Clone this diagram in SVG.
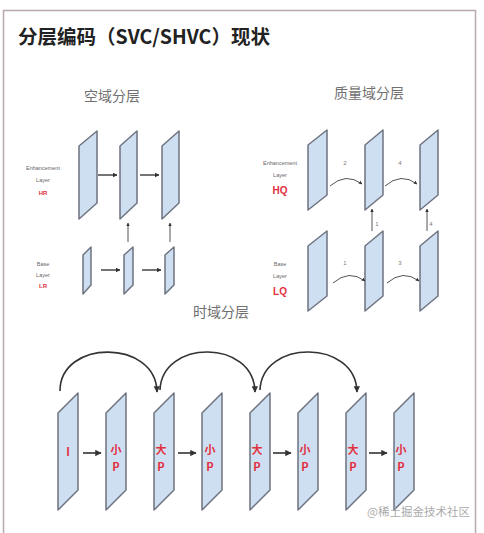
<svg xmlns="http://www.w3.org/2000/svg" width="484" height="533" viewBox="0 0 484 533">
<defs>
<style>
.frame{fill:#cfdff2;stroke:#6e7380;stroke-width:1.5;stroke-linejoin:round}
.ln{fill:none;stroke:#3a3a3a;stroke-width:1.4}
.thin{fill:none;stroke:#555;stroke-width:1}
.big{fill:none;stroke:#333;stroke-width:1.6}
.lbl{font-family:"Liberation Sans","Noto Sans",sans-serif;font-size:5.5px;fill:#666;text-anchor:middle}
.red{font-family:"Liberation Sans","Noto Sans",sans-serif;font-weight:bold;fill:#e23040;text-anchor:middle}
.sec{font-family:"Noto Sans CJK SC","Liberation Sans",sans-serif;font-size:14px;fill:#707070;text-anchor:middle}
.num{font-family:"Liberation Sans",sans-serif;font-size:6px;fill:#777;text-anchor:middle}
.fr{font-family:"Noto Sans CJK SC","Liberation Sans",sans-serif;font-weight:bold;font-size:11px;fill:#e23040;text-anchor:middle}
</style>
<marker id="ah" viewBox="0 0 10 10" refX="9" refY="5" markerWidth="4" markerHeight="4" orient="auto"><path d="M0,0 L10,5 L0,10 z" fill="#333"/></marker>
<marker id="ahb" viewBox="0 0 10 10" refX="9" refY="5" markerWidth="3.5" markerHeight="3.5" orient="auto"><path d="M0,0 L10,5 L0,10 z" fill="#333"/></marker>
</defs>
<rect width="484" height="533" fill="#ffffff"/>
<path d="M3.5,540 L3.5,10.5 L475.5,10.5 L475.5,540" fill="none" stroke="#b9a8ae" stroke-width="1.5"/>
<text x="18" y="44" font-family="Noto Sans CJK SC,Liberation Sans,sans-serif" font-size="19.5" font-weight="bold" fill="#222">分层编码（SVC/SHVC）现状</text>
<text class="sec" x="112" y="101">空域分层</text>
<text class="sec" x="369" y="98">质量域分层</text>
<text class="sec" x="221" y="317">时域分层</text>

<g id="spatial">
<text class="lbl" x="43" y="170">Enhancement</text>
<text class="lbl" x="43" y="182">Layer</text>
<text class="red" x="43" y="195" font-size="6">HR</text>
<text class="lbl" x="43" y="266">Base</text>
<text class="lbl" x="43" y="277">Layer</text>
<text class="red" x="43" y="288" font-size="6">LR</text>
<g id="s_e1"><path class="frame" d="M79,146 L97,131 L97,203 L79,219 z"/></g>
<g id="s_e2"><path class="frame" d="M120,146 L137,131 L137,203 L120,219 z"/></g>
<g id="s_e3"><path class="frame" d="M162,146 L179,131 L179,203 L162,219 z"/></g>
<g id="s_b1"><path class="frame" d="M83,255 L91,247 L91,285 L83,294 z"/></g>
<g id="s_b2"><path class="frame" d="M124,255 L133,247 L133,285 L124,294 z"/></g>
<g id="s_b3"><path class="frame" d="M165,255 L174,247 L174,285 L165,294 z"/></g>
</g>

<g id="quality">
<text class="lbl" x="280" y="165">Enhancement</text>
<text class="lbl" x="280" y="177">Layer</text>
<text class="red" x="280" y="194" font-size="10">HQ</text>
<text class="lbl" x="280" y="266">Base</text>
<text class="lbl" x="280" y="278">Layer</text>
<text class="red" x="280" y="295" font-size="10">LQ</text>
<g id="q_e1"><path class="frame" d="M308,145 L327,130 L327,195 L308,210 z"/></g>
<g id="q_e2"><path class="frame" d="M365,145 L383,130 L383,195 L365,210 z"/></g>
<g id="q_e3"><path class="frame" d="M420,145 L438,130 L438,195 L420,210 z"/></g>
<g id="q_b1"><path class="frame" d="M308,246 L327,231 L327,296 L308,311 z"/></g>
<g id="q_b2"><path class="frame" d="M365,246 L383,231 L383,296 L365,311 z"/></g>
<g id="q_b3"><path class="frame" d="M420,246 L438,231 L438,296 L420,311 z"/></g>
<text class="num" x="345" y="165">2</text>
<text class="num" x="400" y="165">4</text>
<text class="num" x="345" y="265">1</text>
<text class="num" x="400" y="265">3</text>
<text class="num" x="377" y="226">1</text>
<text class="num" x="431" y="226">4</text>
</g>

<g id="temporal">
<g id="t1"><path class="frame" d="M58,413 L78,393 L78,490 L58,510 z"/><text class="fr" x="68" y="456">I</text></g>
<g id="t2"><path class="frame" d="M106,413 L126,393 L126,490 L106,510 z"/><text class="fr" x="116" y="454">小</text><text class="fr" x="116" y="471">P</text></g>
<g id="t3"><path class="frame" d="M154,413 L174,393 L174,490 L154,510 z"/><text class="fr" x="161" y="454">大</text><text class="fr" x="161" y="471">P</text></g>
<g id="t4"><path class="frame" d="M202,413 L222,393 L222,490 L202,510 z"/><text class="fr" x="210" y="454">小</text><text class="fr" x="210" y="471">P</text></g>
<g id="t5"><path class="frame" d="M250,413 L270,393 L270,490 L250,510 z"/><text class="fr" x="257" y="454">大</text><text class="fr" x="257" y="471">P</text></g>
<g id="t6"><path class="frame" d="M298,413 L318,393 L318,490 L298,510 z"/><text class="fr" x="305" y="454">小</text><text class="fr" x="305" y="471">P</text></g>
<g id="t7"><path class="frame" d="M346,413 L366,393 L366,490 L346,510 z"/><text class="fr" x="353" y="454">大</text><text class="fr" x="353" y="471">P</text></g>
<g id="t8"><path class="frame" d="M394,413 L414,393 L414,490 L394,510 z"/><text class="fr" x="401" y="454">小</text><text class="fr" x="401" y="471">P</text></g>
</g>

<g id="connectors">
<line class="ln" x1="98" y1="175" x2="117" y2="175" marker-end="url(#ahb)"/>
<line class="ln" x1="140" y1="175" x2="159" y2="175" marker-end="url(#ahb)"/>
<line class="ln" x1="101" y1="270" x2="120" y2="270" marker-end="url(#ahb)"/>
<line class="ln" x1="142" y1="270" x2="161" y2="270" marker-end="url(#ahb)"/>
<line class="thin" x1="128" y1="242" x2="128" y2="223" marker-end="url(#ahb)"/>
<line class="thin" x1="170" y1="242" x2="170" y2="223" marker-end="url(#ahb)"/>

<path class="thin" d="M330,186 Q346,172 362,184" marker-end="url(#ahb)"/>
<path class="thin" d="M385,186 Q401,172 417,184" marker-end="url(#ahb)"/>
<path class="thin" d="M333,283 Q349,269 365,281" marker-end="url(#ahb)"/>
<path class="thin" d="M387,283 Q403,269 419,281" marker-end="url(#ahb)"/>
<line class="thin" x1="372" y1="231" x2="372" y2="209" marker-end="url(#ahb)"/>
<line class="thin" x1="427" y1="231" x2="427" y2="209" marker-end="url(#ahb)"/>

<path class="big" d="M60,391 C60,339 156,339 157,392" marker-end="url(#ah)"/>
<path class="big" d="M160,390 C162,339 254,339 255,392" marker-end="url(#ah)"/>
<path class="big" d="M260,390 C262,339 356,339 357,392" marker-end="url(#ah)"/>
<line class="big" x1="83" y1="453" x2="101" y2="453" marker-end="url(#ah)"/>
<line class="big" x1="178" y1="453" x2="196" y2="453" marker-end="url(#ah)"/>
<line class="big" x1="273" y1="453" x2="291" y2="453" marker-end="url(#ah)"/>
<line class="big" x1="369" y1="453" x2="387" y2="453" marker-end="url(#ah)"/>
</g>
<text x="470" y="516" font-family="Noto Sans CJK SC,Liberation Sans,sans-serif" font-size="11.5" fill="#aaaaaa" text-anchor="end">@稀土掘金技术社区</text>
</svg>
